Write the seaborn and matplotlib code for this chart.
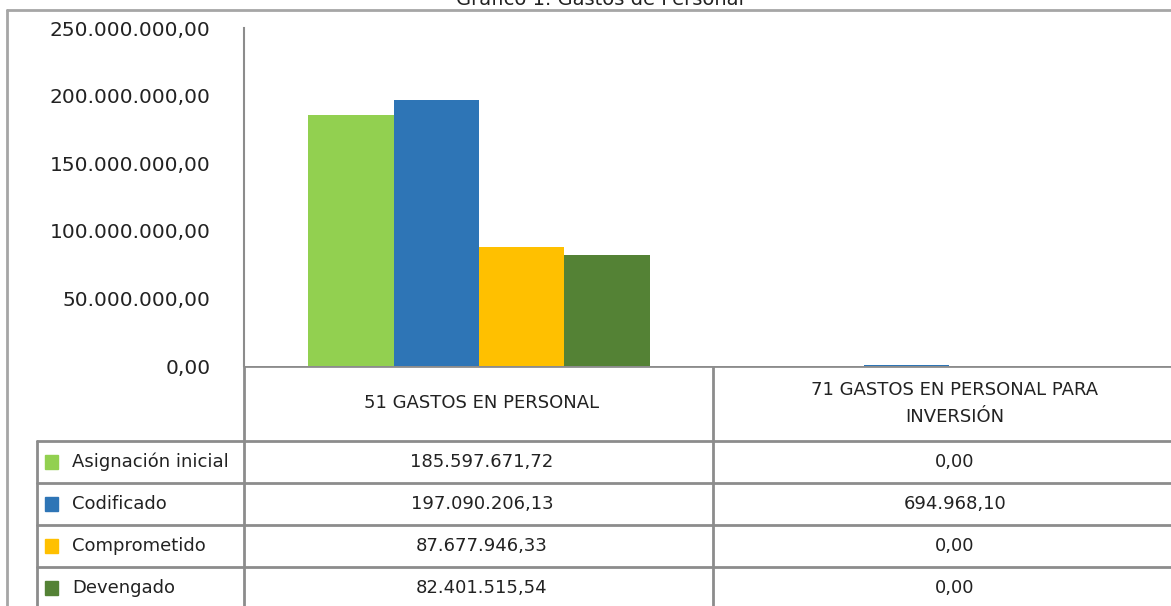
import pandas as pd
import matplotlib.pyplot as plt
import seaborn as sns

# data
categorias = ['51 GASTOS EN PERSONAL', '71 GASTOS EN PERSONAL PARA\nINVERSIÓN']
series = ['Asignación inicial', 'Codificado', 'Comprometido', 'Devengado']
asignacion_inicial = [185597671.72, 0.00]
codificado = [197090206.13, 694968.10]
comprometido = [87677946.33, 0.00]
devengado = [82401515.54, 0.00]
colores = ['#92D050', '#2E75B6', '#FFC000', '#548235']
yticks = [0, 50000000, 100000000, 150000000, 200000000, 250000000]

valores = [asignacion_inicial, codificado, comprometido, devengado]
df = pd.DataFrame({
    'categoria': [c for s in series for c in categorias],
    'serie': [s for s in series for c in categorias],
    'valor': [v for vals in valores for v in vals],
})


def fmt(v):
    # spanish number format 1.234.567,89
    return f"{v:,.2f}".replace(',', 'X').replace('.', ',').replace('X', '.')


sns.set_style('white')
plt.rcParams['font.family'] = ['DejaVu Sans']

W, H = 1171, 606
fig = plt.figure(figsize=(W / 100, H / 100), dpi=100)

# plot area in pixels: y axis at x=244, baseline y=366, top y=28, category width 470
x0, ytop, ybase, catw = 244, 28, 366, 470
ax = fig.add_axes([x0 / W, 1 - ybase / H, 2 * catw / W, (ybase - ytop) / H])
sns.barplot(data=df, x='categoria', y='valor', hue='serie', hue_order=series,
            palette=colores, saturation=1, width=0.727, errorbar=None,
            linewidth=0, legend=False, ax=ax)
ax.set_ylim(0, 250000000)
ax.set_yticks(yticks)
ax.set_yticklabels([fmt(t) for t in yticks], fontsize=14.5, color='#222222')
ax.tick_params(axis='y', length=0, pad=24)
ax.set_xticks([])
ax.set_xlabel('')
ax.set_ylabel('')
for s in ['top', 'right', 'bottom']:
    ax.spines[s].set_visible(False)
ax.spines['left'].set_color('#8c8c8c')
ax.spines['left'].set_linewidth(1.5)

# overlay in pixel coordinates for borders and data table
ov = fig.add_axes([0, 0, 1, 1], zorder=-1)
ov.set_xlim(0, W)
ov.set_ylim(H, 0)
ov.axis('off')
ov.patch.set_alpha(0)

lc = '#8c8c8c'
# chart border
ov.plot([7, W], [10, 10], color='#a6a6a6', lw=2)
ov.plot([7, 7], [10, H], color='#a6a6a6', lw=2)

# table grid
rows = [441, 483, 525, 567, 609]
col_left, col_mid = 37, 713
ov.plot([x0, W], [ybase, ybase], color=lc, lw=2)
ov.plot([x0, x0], [ybase, H], color=lc, lw=2)
ov.plot([col_mid, col_mid], [ybase, H], color=lc, lw=2)
ov.plot([col_left, col_left], [rows[0], H], color=lc, lw=2)
for r in rows[:-1]:
    ov.plot([col_left, W], [r, r], color=lc, lw=2)

# header row
centros = [x0 + catw / 2 + 3, x0 + catw * 1.5 + 6]
for cx, cat in zip(centros, categorias):
    ov.text(cx, (ybase + rows[0]) / 2, cat, ha='center', va='center',
            fontsize=13, color='#222222', linespacing=1.6)

# data rows
for i, (s, vals, col) in enumerate(zip(series, valores, colores)):
    yc = (rows[i] + rows[i + 1]) / 2
    ov.add_patch(plt.Rectangle((45, yc - 7), 13, 14, color=col))
    ov.text(72, yc, s, ha='left', va='center', fontsize=13, color='#222222')
    for cx, v in zip(centros, vals):
        ov.text(cx, yc, fmt(v), ha='center', va='center', fontsize=13,
                color='#222222')

# title, mostly cut off at the top as in the source image
ov.text(600, 5, 'Gráfico 1. Gastos de Personal', ha='center', va='baseline',
        fontsize=14, color='#222222')

fig.savefig('out.png', dpi=100)
